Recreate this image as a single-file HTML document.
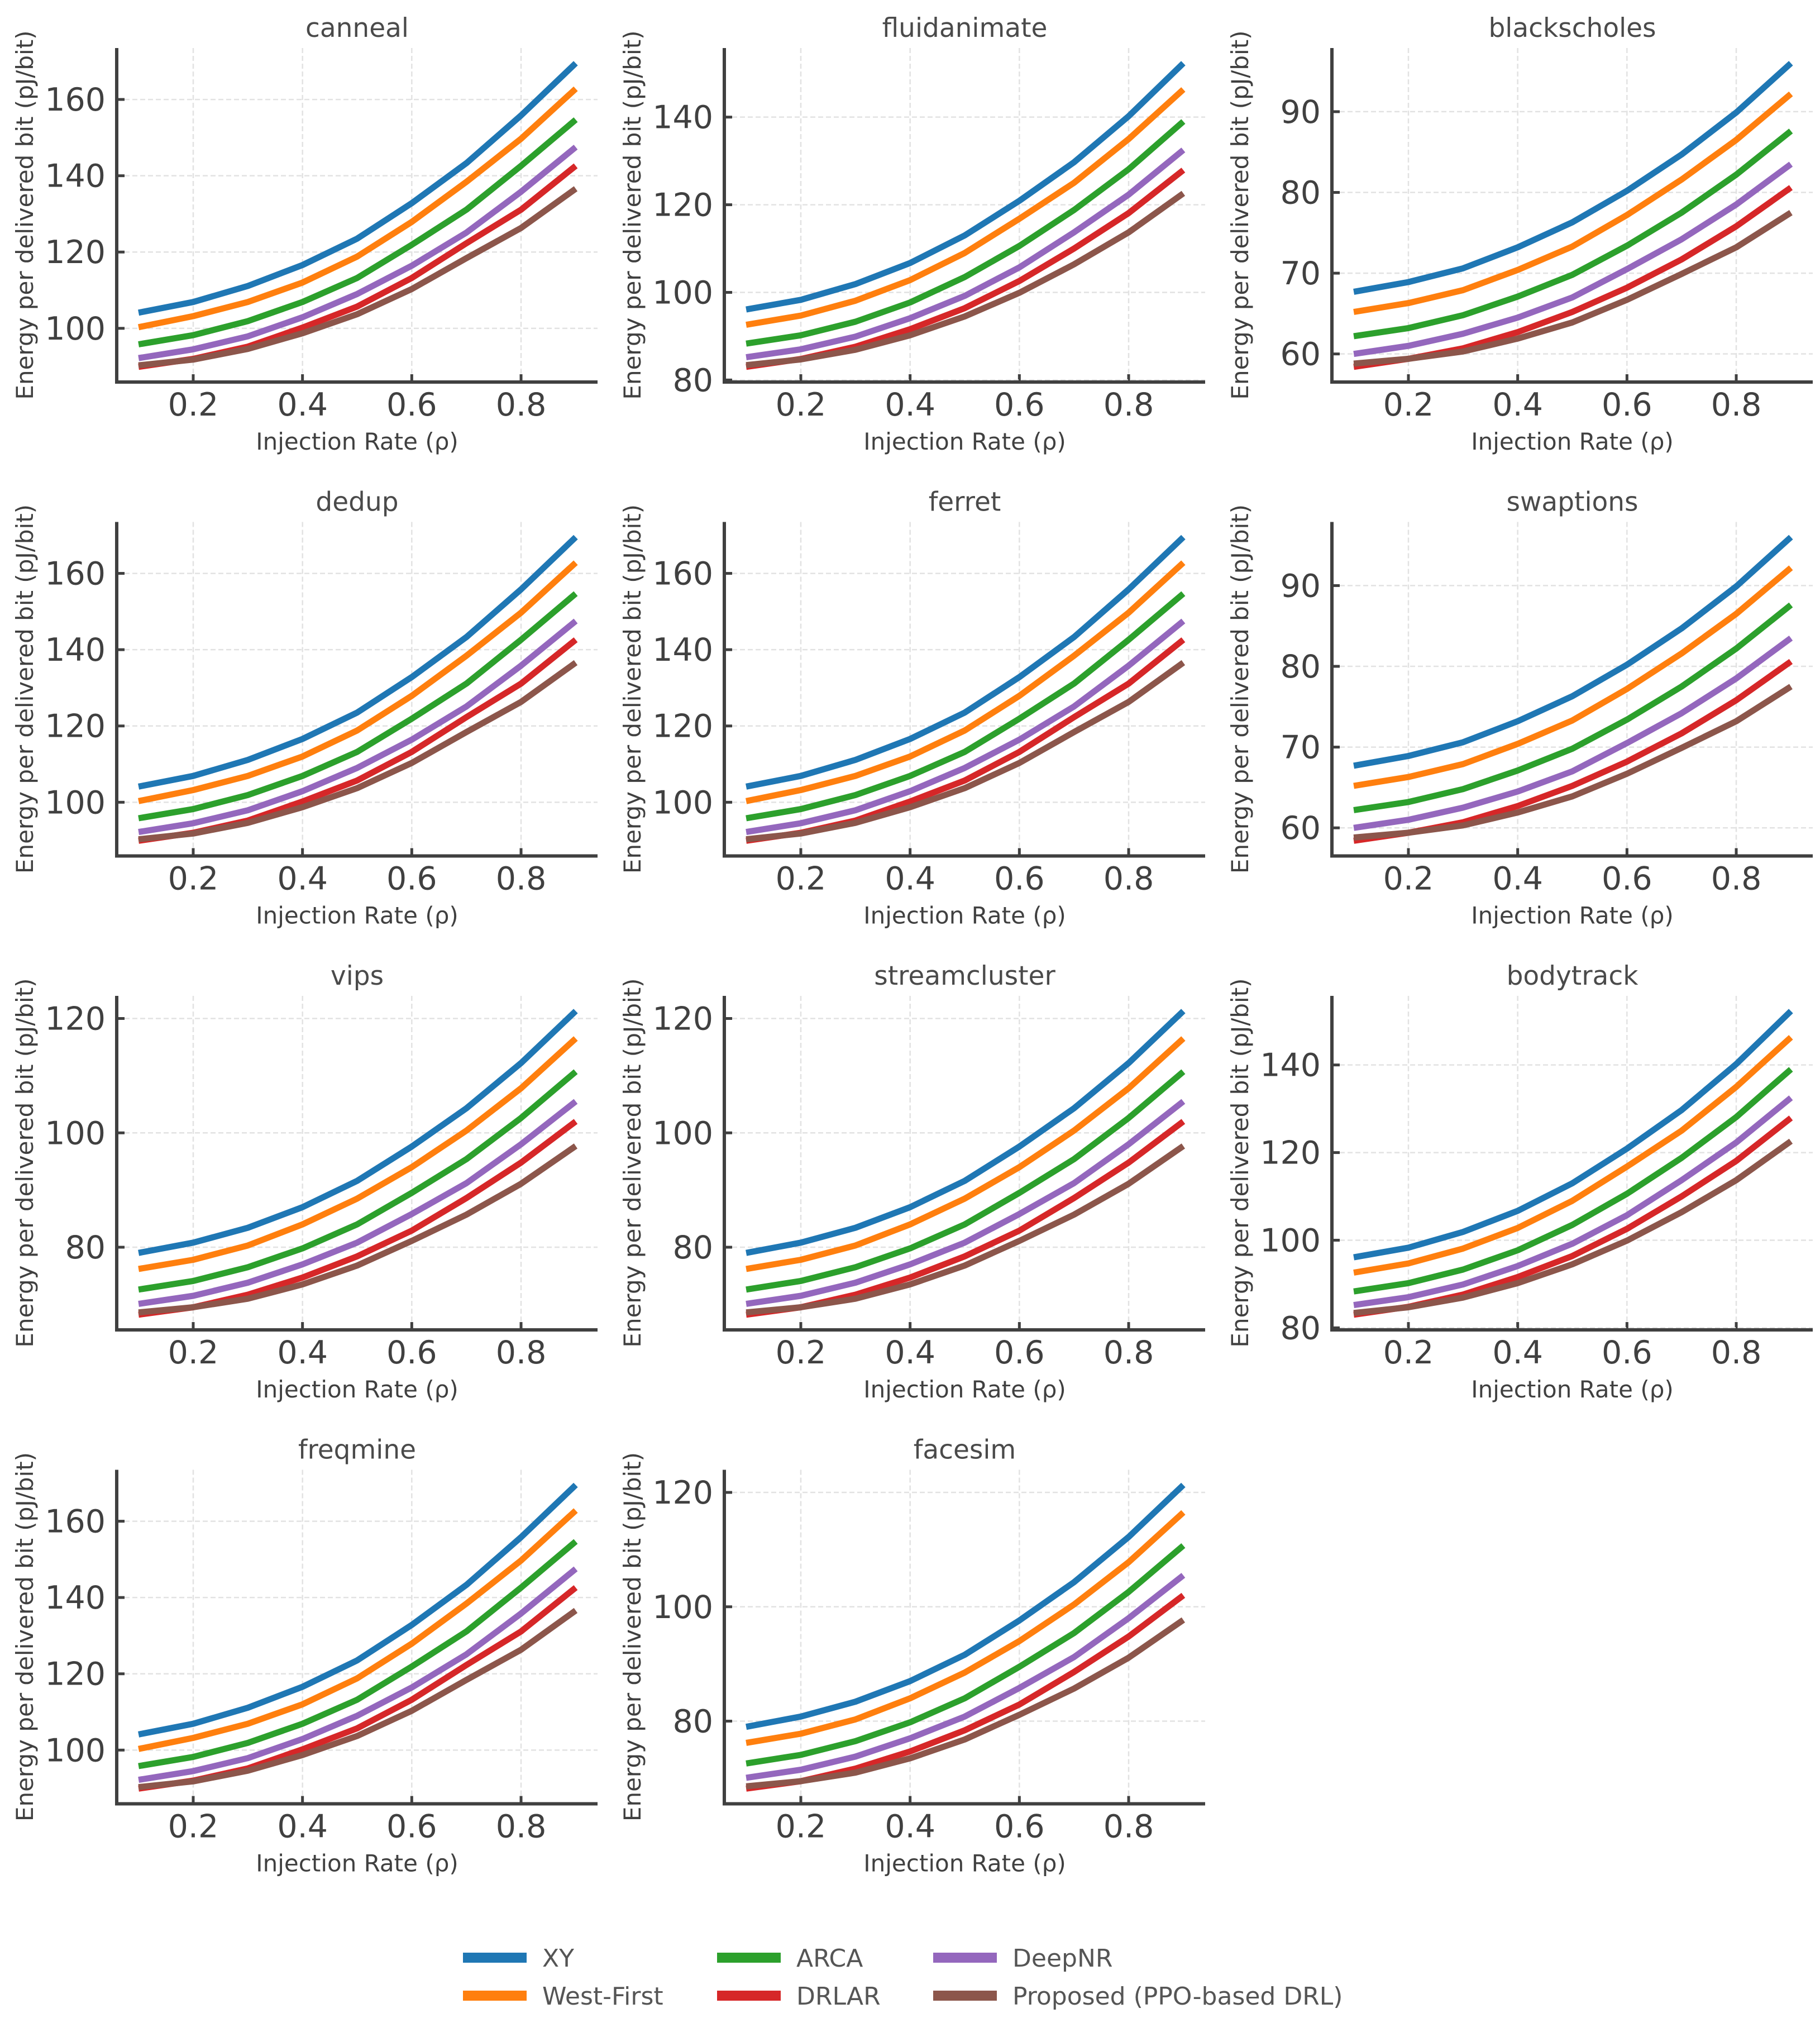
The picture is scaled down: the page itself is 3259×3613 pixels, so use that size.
<!DOCTYPE html>
<html><head><meta charset="utf-8"><style>
html,body{margin:0;padding:0;background:#fff;}
svg{display:block;font-family:"DejaVu Sans","Liberation Sans",sans-serif;}
</style></head><body>
<svg id="fig" width="3259" height="3613" viewBox="0 0 3259 3613" xmlns="http://www.w3.org/2000/svg"></svg>
<script>
const xValues = [0.1,0.2,0.3,0.4,0.5,0.6,0.7,0.8,0.9];
const seriesNames = ["XY","West-First","ARCA","DRLAR","DeepNR","Proposed (PPO-based DRL)"];
const seriesColors = ["#1f77b4","#ff7f0e","#2ca02c","#d62728","#9467bd","#8c564b"];
const xTicks = [0.2,0.4,0.6,0.8];
const xTickLabels = ["0.2","0.4","0.6","0.8"];

// group A: canneal, dedup, ferret, freqmine
const aXY = [104.1,106.9,111.1,116.6,123.5,132.8,143.3,155.8,169.5];
const aWF = [100.3,103.2,106.9,112.0,118.8,127.9,138.4,149.7,162.8];
const aARCA = [95.8,98.2,101.9,106.9,113.2,121.9,131.1,142.6,154.7];
const aDeepNR = [92.2,94.5,97.9,102.9,109.0,116.4,125.1,135.8,147.5];
const aDRLAR = [89.9,92.0,95.2,100.2,105.7,113.2,122.3,131.1,142.6];
const aProp = [90.3,91.8,94.6,98.7,103.7,110.3,118.4,126.3,136.6];
// group B: fluidanimate, bodytrack
const bXY = [96.1,98.3,101.9,106.7,113.0,120.9,129.7,140.2,152.3];
const bWF = [92.6,94.7,98.1,102.8,109.0,116.8,125.0,135.0,146.3];
const bARCA = [88.3,90.2,93.3,97.7,103.5,110.6,118.8,128.1,139.0];
const bDeepNR = [85.2,87.0,89.9,94.1,99.2,105.7,113.7,122.3,132.5];
const bDRLAR = [83.0,84.8,87.6,91.6,96.4,102.6,110.0,118.1,127.9];
const bProp = [83.4,84.7,86.9,90.2,94.5,99.9,106.4,113.7,122.6];
// group C: blackscholes, swaptions
const cXY = [67.7,68.9,70.6,73.2,76.3,80.2,84.7,89.9,96.0];
const cWF = [65.2,66.3,67.9,70.4,73.3,77.2,81.6,86.5,92.2];
const cARCA = [62.2,63.2,64.8,67.1,69.8,73.4,77.5,82.2,87.6];
const cDeepNR = [60.0,61.0,62.5,64.5,67.0,70.5,74.2,78.5,83.5];
const cDRLAR = [58.4,59.4,60.7,62.7,65.2,68.2,71.7,75.8,80.6];
const cProp = [58.8,59.4,60.3,61.9,63.9,66.7,69.9,73.2,77.5];
// group D: vips, streamcluster, facesim
const dXY = [79.0,80.8,83.4,87.0,91.6,97.6,104.3,112.2,121.3];
const dWF = [76.2,77.8,80.3,84.0,88.5,94.0,100.4,107.8,116.5];
const dARCA = [72.6,74.1,76.5,79.8,84.0,89.5,95.4,102.6,110.7];
const dDeepNR = [70.1,71.5,73.8,77.0,80.8,85.8,91.2,98.0,105.5];
const dDRLAR = [68.2,69.5,71.7,74.7,78.4,82.9,88.6,94.8,102.0];
const dProp = [68.6,69.5,71.0,73.5,76.8,81.1,85.7,91.1,97.7];

const groupA = [aXY,aWF,aARCA,aDRLAR,aDeepNR,aProp];
const groupB = [bXY,bWF,bARCA,bDRLAR,bDeepNR,bProp];
const groupC = [cXY,cWF,cARCA,cDRLAR,cDeepNR,cProp];
const groupD = [dXY,dWF,dARCA,dDRLAR,dDeepNR,dProp];
const panelTitles = ["canneal","fluidanimate","blackscholes","dedup","ferret","swaptions","vips","streamcluster","bodytrack","freqmine","facesim"];
const panelGroups = [groupA,groupB,groupC,groupA,groupA,groupC,groupD,groupD,groupB,groupA,groupD];
const panelSteps = [20,20,10,20,20,10,20,20,20,20,20];

const NS = "http://www.w3.org/2000/svg";
const svg = document.getElementById('fig');
function mk(tag, attrs, parent){
  const e = document.createElementNS(NS, tag);
  for (const k in attrs) e.setAttribute(k, attrs[k]);
  (parent||svg).appendChild(e);
  return e;
}
const drawOrder = [0,1,2,4,3,5];
const AX_L = 209, AX_W = 861, AX_T = 86, AX_H = 598, COL_DX = 1088, ROW_DX = 848.5;
const TXT = "#404040";

panelTitles.forEach((title, p) => {
  const col = p % 3, row = Math.floor(p / 3);
  const L = AX_L + col*COL_DX, T = AX_T + row*ROW_DX, R = L + AX_W, B = T + AX_H;
  const g = mk('g', {});
  
  
  const grp = panelGroups[p];
  let mn = Infinity, mx = -Infinity;
  grp.forEach(s => s.forEach(v => { mn = Math.min(mn, v); mx = Math.max(mx, v); }));
  const ymin = mn - 0.05*(mx-mn), ymax = mx + 0.05*(mx-mn);
  const xmin = 0.06, xmax = 0.94;
  const sx = v => L + (v - xmin)/(xmax - xmin)*AX_W;
  const sy = v => B - (v - ymin)/(ymax - ymin)*AX_H;
  xTicks.forEach((t, i) => {
    const gl = mk('line', {x1:sx(t), x2:sx(t), y1:T, y2:B, stroke:'#e2e2e2', 'stroke-width':2.5, 'stroke-dasharray':'9,5'}, g);
    
    
    const tk = mk('line', {x1:sx(t), x2:sx(t), y1:B, y2:B-14, stroke:TXT, 'stroke-width':5}, g);
    
    
    const tl = mk('text', {x:sx(t), y:B+60, 'text-anchor':'middle', 'font-size':57, fill:TXT}, g);
    
    
    tl.textContent = xTickLabels[i];
  });
  const step = panelSteps[p];
  for (let t = Math.ceil(ymin/step)*step; t <= ymax; t += step) {
    const gl = mk('line', {x1:L, x2:R, y1:sy(t), y2:sy(t), stroke:'#e2e2e2', 'stroke-width':2.5, 'stroke-dasharray':'9,5'}, g);
    
    
    const tk = mk('line', {x1:L, x2:L+14, y1:sy(t), y2:sy(t), stroke:TXT, 'stroke-width':5}, g);
    
    
    const tl = mk('text', {x:L-20, y:sy(t)+20, 'text-anchor':'end', 'font-size':57, fill:TXT}, g);
    
    
    tl.textContent = String(t);
  }
  drawOrder.forEach(si => {
    const pts = xValues.map((x, i) => sx(x).toFixed(1) + ',' + sy(grp[si][i]).toFixed(1)).join(' ');
    const pl = mk('polyline', {points:pts, fill:'none', stroke:seriesColors[si], 'stroke-width':11, 'stroke-linejoin':'round'}, g);
    
    
  });
  const sp = mk('path', {d:`M${L},${T} L${L},${B} L${R},${B}`, fill:'none', stroke:TXT, 'stroke-width':6}, g);
  
  
  const tt = mk('text', {x:(L+R)/2, y:T-20, 'text-anchor':'middle', 'font-size':47, fill:'#4a4a4a'}, g);
  
  
  tt.textContent = title;
  const xl = mk('text', {x:(L+R)/2, y:B+121, 'text-anchor':'middle', 'font-size':42, fill:TXT}, g);
  
  
  xl.textContent = 'Injection Rate (ρ)';
  const yx = L - 150, yy = (T+B)/2;
  const yl = mk('text', {x:yx, y:yy, 'text-anchor':'middle', 'font-size':42, fill:TXT, transform:`rotate(-90 ${yx} ${yy})`}, g);
  
  
  yl.textContent = 'Energy per delivered bit (pJ/bit)';
});

const legend = mk('g', {});


const legCols = [829, 1284, 1671];
const legRows = [3505, 3573];
seriesNames.forEach((name, i) => {
  const c = Math.floor(i/2), r = i % 2;
  const ent = mk('g', {}, legend);
  
  
  const sw = mk('rect', {x:legCols[c], y:legRows[r]-9, width:114, height:18, fill:seriesColors[i]}, ent);
  
  
  const tx = mk('text', {x:legCols[c]+142, y:legRows[r]+16, 'font-size':44, fill:'#555'}, ent);
  
  
  tx.textContent = name;
});
</script>
</body></html>
